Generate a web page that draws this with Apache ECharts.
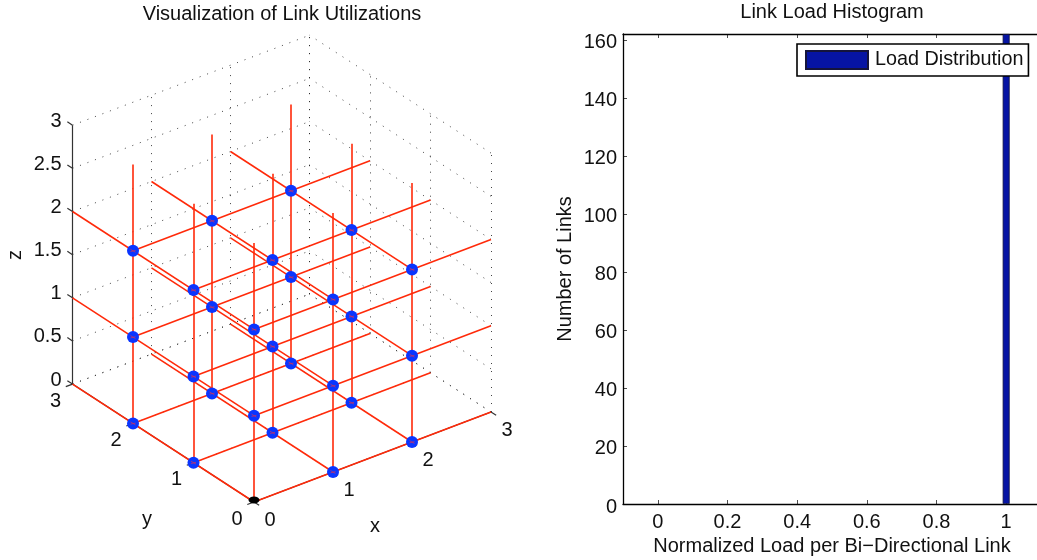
<!DOCTYPE html>
<html><head><meta charset="utf-8">
<style>html,body{margin:0;padding:0;background:#fff;overflow:hidden}#c{width:1037px;height:560px}</style>
<script src="https://cdn.jsdelivr.net/npm/echarts@6/dist/echarts.min.js"></script>
</head><body><div id="c"></div>
<script>
// --- data ---
const nodeX = [0, 1, 2];
const nodeY = [0, 1, 2];
const nodeZ = [0, 1, 2];
const linkEnd = 3;               // every link runs on to the wrap-around coordinate 3
const xTicks3d = [0, 1, 2, 3];
const yTicks3d = [0, 1, 2, 3];
const zTicks3d = [0, 0.5, 1, 1.5, 2, 2.5, 3];
const histLoads = [1];
const histCounts = [162];
const histXTicks = [0, 0.2, 0.4, 0.6, 0.8, 1];
const histYTicks = [0, 20, 40, 60, 80, 100, 120, 140, 160];

// --- axonometric view of the 3-D box (scale of the hidden plane axes) ---
const O = [254, 502], EX = [79, -30], EY = [-60.5, -39.3], EZ = [0, -86.3];
const P = (x, y, z) => [O[0] + x*EX[0] + y*EY[0] + z*EZ[0], O[1] + x*EX[1] + y*EY[1] + z*EZ[1]];
const seg = (a, b) => ({coords: [P(...a), P(...b)]});

const links = [], nodes = [], origin = [];
for (const b of nodeY) for (const c of nodeZ) links.push(seg([0,b,c],[linkEnd,b,c]));
for (const a of nodeX) for (const c of nodeZ) links.push(seg([a,0,c],[a,linkEnd,c]));
for (const a of nodeX) for (const b of nodeY) links.push(seg([a,b,0],[a,b,linkEnd]));
for (const a of nodeX) for (const b of nodeY) for (const c of nodeZ) {
  if (a===0 && b===0 && c===0) origin.push(P(a,b,c)); else nodes.push(P(a,b,c));
}

const maxX = xTicks3d[xTicks3d.length-1], maxY = yTicks3d[yTicks3d.length-1], maxZ = zTicks3d[zTicks3d.length-1];
const dots = [];
for (const z of zTicks3d) { dots.push(seg([0,maxY,z],[maxX,maxY,z])); dots.push(seg([maxX,0,z],[maxX,maxY,z])); }
for (const x of xTicks3d) { dots.push(seg([x,maxY,0],[x,maxY,maxZ])); dots.push(seg([x,0,0],[x,maxY,0])); }
for (const y of yTicks3d) { dots.push(seg([maxX,y,0],[maxX,y,maxZ])); dots.push(seg([0,y,0],[maxX,y,0])); }

const axes3d = [seg([0,0,0],[maxX,0,0]), seg([0,0,0],[0,maxY,0]), seg([0,maxY,0],[0,maxY,maxZ])];
const tk = 0.085;
for (const x of xTicks3d) axes3d.push(seg([x,0,0],[x,-tk,0]));
for (const y of yTicks3d) axes3d.push(seg([0,y,0],[-tk,y,0]));
for (const z of zTicks3d) axes3d.push(seg([0,maxY,z],[0,maxY+tk,z]));

const font = 'Liberation Sans, Helvetica, Arial, sans-serif';
const FS = 20, INK = '#111';
const tickLabel = (pos, text, dx, dy, align) => ({value: pos, label:{show:true, formatter:text, position:'inside', offset:[dx,dy], color:INK, fontSize:FS, fontFamily:font, align:align||'center', verticalAlign:'middle'}});
const labels3d = [];
for (const x of xTicks3d) labels3d.push(tickLabel(P(x,0,0), String(x), 16, 18));
for (const y of yTicks3d) labels3d.push(tickLabel(P(0,y,0), String(y), -17, 17));
for (const z of zTicks3d) labels3d.push(tickLabel(P(0,maxY,z), String(z), -11, -4, 'right'));

const chart = echarts.init(document.getElementById('c'), null, {renderer:'canvas'});
chart.setOption({
  animation:false,
  backgroundColor:'#fff',
  textStyle:{fontFamily:font},
  title:[
    {text:'Visualization of Link Utilizations', left:282, top:4, padding:0, textAlign:'center', textStyle:{fontSize:FS, fontWeight:'normal', color:INK, fontFamily:font}},
    {text:'Link Load Histogram', left:832, top:2, padding:0, textAlign:'center', textStyle:{fontSize:FS, fontWeight:'normal', color:INK, fontFamily:font}}
  ],
  grid:[
    {left:0, top:0, width:1037, height:560, show:false, outerBoundsMode:'none'},
    {left:623, top:34, width:418, height:470, show:false, outerBoundsMode:'none'}
  ],
  xAxis:[
    {gridIndex:0, type:'value', min:0, max:1037, show:false},
    {gridIndex:1, type:'value', min:-0.1, max:1.1, position:'bottom',
      name:'Normalized Load per Bi\u2212Directional Link', nameLocation:'middle', nameGap:29,
      nameTextStyle:{fontSize:FS, color:INK, fontFamily:font, align:'center', verticalAlign:'middle'},
      axisLine:{show:true, onZero:false, lineStyle:{color:'#000', width:1.3}},
      axisTick:{show:true, inside:true, length:4, lineStyle:{color:'#000', width:0.7}, customValues:histXTicks},
      axisLabel:{show:true, color:INK, fontSize:FS, fontFamily:font, margin:8, customValues:histXTicks, formatter:v=>String(v)},
      splitLine:{show:false}},
    {gridIndex:1, type:'value', min:-0.1, max:1.1, position:'top',
      axisLine:{show:true, onZero:false, lineStyle:{color:'#000', width:1.3}},
      axisTick:{show:true, inside:true, length:4, lineStyle:{color:'#000', width:0.7}, customValues:histXTicks},
      axisLabel:{show:false}, splitLine:{show:false}}
  ],
  yAxis:[
    {gridIndex:0, type:'value', min:0, max:560, inverse:true, show:false},
    {gridIndex:1, type:'value', min:0, max:162, position:'left',
      name:'Number of Links', nameLocation:'middle', nameGap:48, nameRotate:90,
      nameTextStyle:{fontSize:FS, color:INK, fontFamily:font},
      axisLine:{show:true, onZero:false, lineStyle:{color:'#000', width:1.3}},
      axisTick:{show:true, inside:true, length:4, lineStyle:{color:'#000', width:0.7}, customValues:histYTicks},
      axisLabel:{show:true, color:INK, fontSize:FS, fontFamily:font, margin:6, verticalAlign:'top', lineHeight:6, customValues:histYTicks},
      splitLine:{show:false}},
    {gridIndex:1, type:'value', min:0, max:162, position:'right',
      axisLine:{show:false, onZero:false},
      axisTick:{show:true, inside:true, length:4, lineStyle:{color:'#000', width:0.7}, customValues:histYTicks},
      axisLabel:{show:false}, splitLine:{show:false}}
  ],
  legend:{
    show:true, data:['Load Distribution'], left:797, top:44, orient:'horizontal',
    backgroundColor:'#fff', borderColor:'#000', borderWidth:1.6, borderRadius:0,
    padding:[6,5,6,8], itemWidth:62, itemHeight:18, itemGap:6, icon:'rect',
    textStyle:{fontSize:19.8, color:INK, fontFamily:font, padding:[4,0,0,2]}
  },
  series:[
    {type:'lines', coordinateSystem:'cartesian2d', xAxisIndex:0, yAxisIndex:0, silent:true, data:dots,
      lineStyle:{color:'#222', width:1, type:[1,7], opacity:0.85}, z:1},
    {type:'lines', coordinateSystem:'cartesian2d', xAxisIndex:0, yAxisIndex:0, silent:true, data:axes3d,
      lineStyle:{color:'#333', width:1.2, opacity:1}, z:2},
    {type:'lines', coordinateSystem:'cartesian2d', xAxisIndex:0, yAxisIndex:0, silent:true, data:links,
      lineStyle:{color:'#ff2a0a', width:1.6, opacity:1}, z:3},
    {type:'scatter', xAxisIndex:0, yAxisIndex:0, silent:true, data:origin, symbolSize:[11,7], symbolOffset:[0,-2], itemStyle:{color:'#000', opacity:1}, z:4},
    {type:'scatter', xAxisIndex:0, yAxisIndex:0, silent:true, data:nodes, symbolSize:12, itemStyle:{color:'#0a35ff', opacity:1}, z:4},
    {type:'scatter', xAxisIndex:0, yAxisIndex:0, silent:true, data:nodes, symbol:'path://M0 0L10 6.5M10 2.5L0 5', symbolSize:[5,3],
      itemStyle:{color:'none', borderColor:'#f03040', borderWidth:0.6, opacity:1}, z:5},
    {type:'scatter', xAxisIndex:0, yAxisIndex:0, silent:true, data:labels3d, symbolSize:0, itemStyle:{opacity:1}, z:6},
    {type:'scatter', xAxisIndex:0, yAxisIndex:0, silent:true, symbolSize:0, itemStyle:{opacity:1}, z:6, data:[
      tickLabel(P(0,0,0),'x',121,24),
      tickLabel(P(0,0,0),'y',-107,17),
      {value:[15,255], label:{show:true, formatter:'z', rotate:90, position:'inside', color:INK, fontSize:FS, fontFamily:font, align:'center', verticalAlign:'middle'}}
    ]},
    {name:'Load Distribution', type:'bar', xAxisIndex:1, yAxisIndex:1, silent:true, barWidth:7,
      data:histLoads.map((v,i)=>[v,histCounts[i]]),
      itemStyle:{color:'#0614a4', borderColor:'#14143c', borderWidth:0.8}}
  ]
});
</script></body></html>
